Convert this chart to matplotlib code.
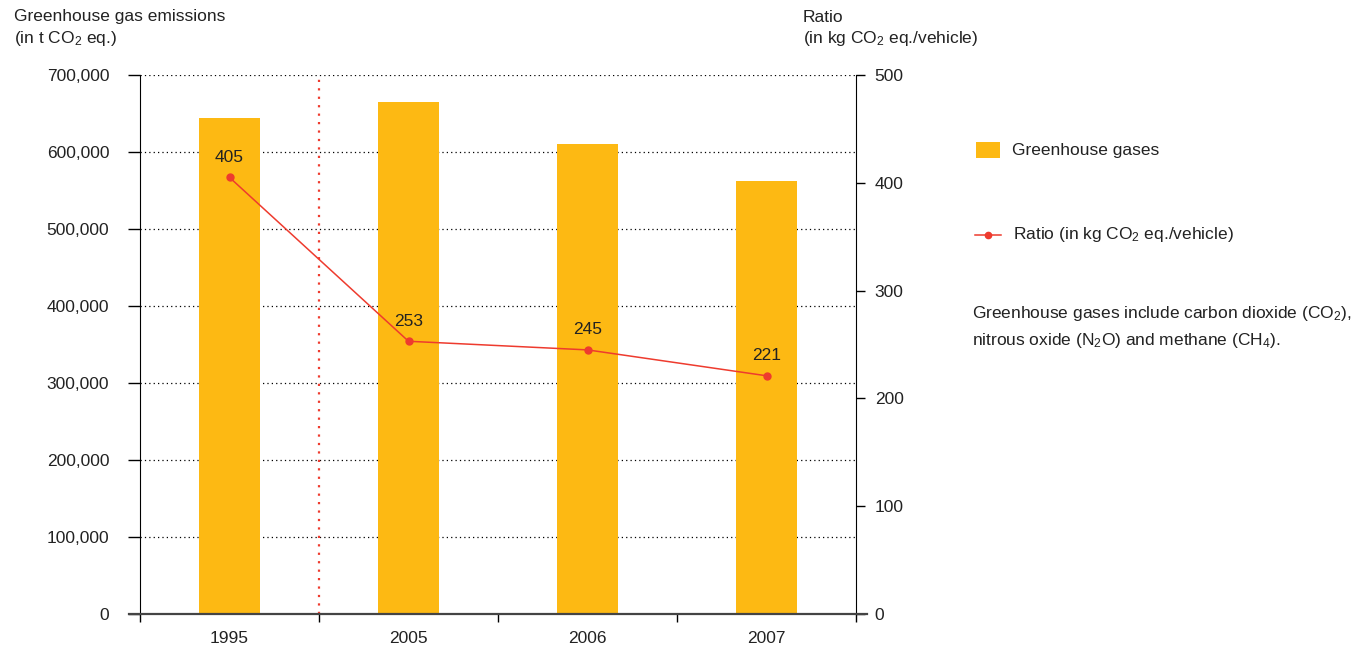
import matplotlib
matplotlib.use("Agg")
import matplotlib.pyplot as plt
from matplotlib.lines import Line2D

plt.rcParams['font.family'] = ['Liberation Sans', 'DejaVu Sans']
plt.rcParams['mathtext.fontset'] = 'custom'
plt.rcParams['mathtext.rm'] = 'Liberation Sans'
plt.rcParams['mathtext.it'] = 'Liberation Sans'
plt.rcParams['mathtext.default'] = 'rm'

years = ["1995", "2005", "2006", "2007"]
emissions = [644000, 665000, 610000, 562000]
ratio = [405, 253, 245, 221]
left_ticks = [0, 100000, 200000, 300000, 400000, 500000, 600000, 700000]
right_ticks = [0, 100, 200, 300, 400, 500]

BAR = "#FDB913"
RED = "#EE3B2E"
TXT = "#222222"
FS = 12.5

fig = plt.figure(figsize=(13.63, 6.47), dpi=100)
W, H = 1363, 647
ax = fig.add_axes([140 / W, (H - 614) / H, (856 - 140) / W, (614 - 75) / H])
ax2 = ax.twinx()

x = list(range(len(years)))
ax.bar(x, emissions, width=0.34, color=BAR, zorder=2)
ax.set_xlim(-0.5, len(years) - 0.5)
ax.set_ylim(0, 700000)
ax.set_yticks(left_ticks)
ax.set_yticklabels([f"{v:,}" for v in left_ticks])
ax.yaxis.grid(True, linestyle=(0, (1, 2.5)), color="black", linewidth=0.9, zorder=0)
ax.set_axisbelow(True)

# category boundaries as ticks, labels centred under the bars
ax.set_xticks([i - 0.5 for i in range(len(years) + 1)])
ax.set_xticklabels([])
ax.set_xticks(x, minor=True)
ax.set_xticklabels(years, minor=True)
ax.tick_params(axis="x", which="major", direction="out", length=6, width=1, color="black")
ax.tick_params(axis="x", which="minor", length=0, pad=12, labelsize=FS, labelcolor=TXT)
ax.tick_params(axis="y", direction="out", length=8.6, width=1, pad=13.5, labelsize=FS, labelcolor=TXT)

# period break between 1995 and 2005
ax.axvline(0.5, color=RED, linestyle=(0, (1, 2.8)), linewidth=1.6, zorder=3)

ax2.plot(x, ratio, color=RED, linewidth=1.1, marker="o", markersize=5, zorder=4)
ax2.set_ylim(0, 500)
ax2.set_yticks(right_ticks)
ax2.tick_params(axis="y", direction="out", length=6.5, width=1, pad=7, labelsize=FS, labelcolor=TXT)
for xi, r in zip(x, ratio):
    ax2.annotate(str(r), (xi, r), xytext=(0, 9), textcoords="offset points",
                 ha="center", va="bottom", fontsize=FS, color=TXT)

for a in (ax, ax2):
    a.spines["top"].set_visible(False)
    a.spines["bottom"].set_visible(False)
ax.spines["right"].set_visible(False)
ax2.spines["left"].set_visible(False)
ax.spines["left"].set_color("black")
ax2.spines["right"].set_color("black")

# baseline extending past both vertical axes
fig.add_artist(Line2D([129 / W, 867 / W], [(H - 614) / H] * 2, color="#444444", linewidth=1.6))

# axis titles
fig.text(14 / W, 1 - 17 / H, "Greenhouse gas emissions", fontsize=FS, color=TXT, va="center")
fig.text(14 / W, 1 - 39 / H, r"(in t CO$_2$ eq.)", fontsize=FS, color=TXT, va="center")
fig.text(803 / W, 1 - 17 / H, "Ratio", fontsize=FS, color=TXT, va="center")
fig.text(803 / W, 1 - 39 / H, r"(in kg CO$_2$ eq./vehicle)", fontsize=FS, color=TXT, va="center")

# legend entries
sq = plt.Rectangle((976 / W, 1 - 158 / H), 24 / W, 16 / H, transform=fig.transFigure,
                   facecolor=BAR, edgecolor="none")
fig.add_artist(sq)
fig.text(1012 / W, 1 - 150 / H, "Greenhouse gases", fontsize=FS, color=TXT, va="center")
fig.add_artist(Line2D([975 / W, 1001 / W], [1 - 235 / H] * 2, color=RED, linewidth=1.1))
fig.add_artist(Line2D([988 / W], [1 - 235 / H], color=RED, marker="o", markersize=4.5))
fig.text(1013 / W, 1 - 235 / H, r"Ratio (in kg CO$_2$ eq./vehicle)", fontsize=FS, color=TXT, va="center")

fig.text(972 / W, 1 - 313 / H, r"Greenhouse gases include carbon dioxide (CO$_2$),",
         fontsize=FS, color=TXT, va="center")
fig.text(972 / W, 1 - 340 / H, r"nitrous oxide (N$_2$O) and methane (CH$_4$).",
         fontsize=FS, color=TXT, va="center")

fig.savefig("out.png", dpi=100)
